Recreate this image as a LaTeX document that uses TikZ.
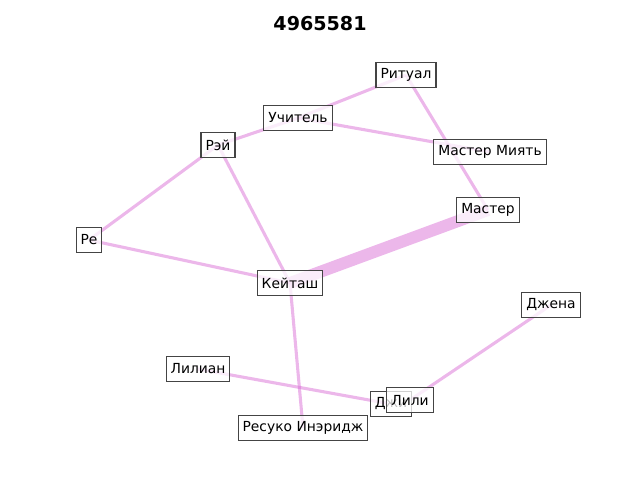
\documentclass[tikz,border=0pt]{standalone}
\usepackage{fontspec}
\setmainfont{DejaVu Sans}
\usetikzlibrary{backgrounds}
\definecolor{edgeviolet}{RGB}{218,112,214}
\definecolor{boxgray}{RGB}{68,68,68}

\begin{document}
\begin{tikzpicture}
  [every node/.style={draw=boxgray,line width=0.8pt,fill=white,fill opacity=0.75,text opacity=1,
     font=\fontsize{9.85}{11}\selectfont,inner xsep=3.2pt,minimum height=0.63cm},
   link/.style={draw=edgeviolet,opacity=0.5,line width=2.2pt}]
  \useasboundingbox (0,0) rectangle (16,12);
  \node[draw=none,fill=none,font=\bfseries\fontsize{13.6}{16}\selectfont] (title) at (8,11.4) {4965581};

  \node (rit) at (10.15,10.125) {Ритуал};
  \node (uch) at (7.45,9.05) {Учитель};
  \node (rey) at (5.45,8.375) {Рэй};
  \node (mm) at (12.25,8.2) {Мастер Миять};
  \node (mas) at (12.2,6.75) {Мастер};
  \node (re) at (2.225,6.0) {Ре};
  \node (kei) at (7.25,4.925) {Кейташ};
  \node (dzhena) at (13.775,4.375) {Джена};
  \node (lilian) at (4.95,2.775) {Лилиан};
  \node (dzhi) at (9.775,1.9) {Джи};
  \node (res) at (7.575,1.3) {Ресуко Инэридж};
  \node (lili) at (10.25,2.0) {Лили};

  \begin{scope}[on background layer]
    \foreach \from/\to in {rey/uch, uch/rit, uch/mm, rit/mas, rey/re, rey/kei, re/kei,
        kei/res, lilian/dzhi, lili/dzhena}
      \draw [link] (\from.center) -- (\to.center);
    \draw [link,line width=8.5pt] (kei.center) -- (mas.center);
  \end{scope}
\end{tikzpicture}
\end{document}
